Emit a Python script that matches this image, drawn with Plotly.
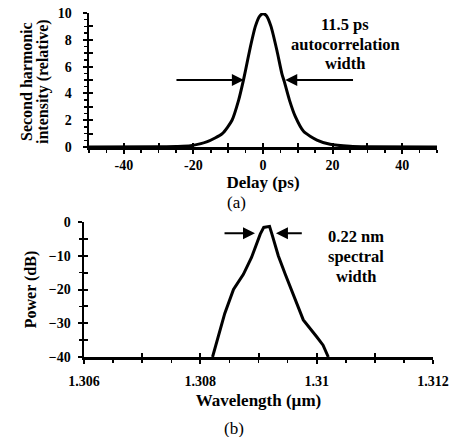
import plotly.graph_objects as go

# ---- Data ----
delay_ps = [-50, -30, -25, -20.8, -16, -11.7, -8.9, -7.0, -5.7, -5.0, -3.6, -2.2, -1.0, 0, 1.0, 2.3, 4.0, 5.4, 6.1, 7.6, 9.3, 11.7, 15.5, 19.3, 25, 30, 50]
sh_intensity = [0, 0.01, 0.04, 0.1, 0.4, 1.0, 2.0, 3.5, 4.9, 5.75, 7.5, 9.0, 9.75, 9.95, 9.8, 9.0, 7.2, 5.5, 4.9, 3.5, 2.26, 1.15, 0.52, 0.2, 0.05, 0.01, 0]

wavelength_um = [1.30821, 1.30831, 1.30842, 1.30857, 1.30874, 1.30888, 1.30897, 1.30903, 1.30909, 1.30919, 1.30924, 1.30934, 1.30946, 1.30960, 1.30977, 1.31000, 1.31011, 1.31020]
power_db = [-40, -34, -27.1, -20, -15.5, -10.5, -6.2, -3.6, -1.6, -1.3, -4.1, -10, -15.5, -21.5, -29, -34, -36.5, -40]

arrow_a_y = 5
arrow_a_left = (-25.3, -5.5)   # (tail, head)
arrow_a_right = (26.3, 6.4)
arrow_b_y = -3.3
arrow_b_left = (1.30839, 1.30894)
arrow_b_right = (1.30977, 1.30930)

x_ticks_a = [-40, -20, 0, 20, 40]
y_ticks_a = [0, 2, 4, 6, 8, 10]
x_ticks_b = [1.306, 1.308, 1.31, 1.312]
x_ticklabels_b = ["1.306", "1.308", "1.31", "1.312"]
y_ticks_b = [0, -10, -20, -30, -40]

note_a = ["11.5 ps", "autocorrelation", "width"]
note_b = ["0.22 nm", "spectral", "width"]
ytitle_a = ["Second harmonic", "intensity (relative)"]

FONT = "Liberation Serif"
W, H = 455, 437

def fx(px):
    return px / W

def fy(py):
    return 1 - py / H

fig = go.Figure()
fig.add_trace(go.Scatter(x=delay_ps, y=sh_intensity, mode="lines", line=dict(color="black", width=3, shape="spline", smoothing=0.6),
                         xaxis="x", yaxis="y", cliponaxis=False, showlegend=False, hoverinfo="skip"))
fig.add_trace(go.Scatter(x=wavelength_um, y=power_db, mode="lines", line=dict(color="black", width=3),
                         xaxis="x2", yaxis="y2", cliponaxis=False, showlegend=False, hoverinfo="skip"))

tickfont = dict(family=FONT, size=14, color="black", weight="bold")
titlefont = dict(family=FONT, size=17, color="black", weight="bold")
notefont = dict(family=FONT, size=16.5, color="black", weight="bold")
vtitlefont = dict(family=FONT, size=16, color="black", weight="bold")

dom_a_x = [fx(89), fx(437)]
dom_a_y = [fy(147), fy(13)]
dom_b_x = [fx(84), fx(433)]
dom_b_y = [fy(357), fy(222)]

common = dict(showgrid=False, zeroline=False, showline=True, linecolor="black", linewidth=2.5, automargin=False,
              ticks="outside", ticklen=4, tickwidth=2, tickcolor="black", tickfont=tickfont)

fig.update_layout(
    width=W, height=H, margin=dict(l=0, r=0, t=0, b=0, autoexpand=False),
    paper_bgcolor="white", plot_bgcolor="white",
    xaxis=dict(domain=dom_a_x, anchor="y", range=[-50, 50], tickvals=x_ticks_a, ticktext=[str(v) for v in x_ticks_a],
               minor=dict(dtick=5, ticks="outside", ticklen=3, tickwidth=1.5, tickcolor="black"),
               title=dict(text="Delay (ps)", font=titlefont, standoff=1), **common),
    yaxis=dict(domain=dom_a_y, anchor="x", range=[0, 10], tickvals=y_ticks_a, ticklabelstandoff=8,
               minor=dict(dtick=0.5, ticks="outside", ticklen=3, tickwidth=1.5, tickcolor="black"), **common),
    xaxis2=dict(domain=dom_b_x, anchor="y2", range=[1.306, 1.312], tickvals=x_ticks_b, ticktext=x_ticklabels_b,
                ticklabelstandoff=6,
                minor=dict(dtick=0.0005, ticks="outside", ticklen=3, tickwidth=1.5, tickcolor="black"),
                title=dict(text="Wavelength (µm)", font=titlefont, standoff=6), **common),
    yaxis2=dict(domain=dom_b_y, anchor="x2", range=[-40, 0], tickvals=y_ticks_b, ticklabelstandoff=4,
                minor=dict(dtick=5, ticks="outside", ticklen=3, tickwidth=1.5, tickcolor="black"),
                title=dict(text="Power (dB)", font=vtitlefont, standoff=8), **common),
    hovermode=False,
)

# inside-tick overlays to make ticks cross the axis line
ov = dict(showgrid=False, zeroline=False, showline=False, ticks="inside", ticklen=4, tickwidth=2, tickcolor="black",
          showticklabels=False, automargin=False)
fig.update_layout(
    xaxis3=dict(overlaying="x", matches="x", anchor="y", dtick=10, **ov),
    yaxis3=dict(overlaying="y", matches="y", anchor="x", dtick=1, **ov),
    xaxis4=dict(overlaying="x2", matches="x2", anchor="y2", dtick=0.001, **ov),
    yaxis4=dict(overlaying="y2", matches="y2", anchor="x2", dtick=5, **ov),
)
fig.add_trace(go.Scatter(x=[None], y=[None], xaxis="x3", yaxis="y3", showlegend=False))
fig.add_trace(go.Scatter(x=[None], y=[None], xaxis="x4", yaxis="y4", showlegend=False))

def arrow(xref, yref, tail, head, y):
    fig.add_annotation(x=head, y=y, ax=tail, ay=y, xref=xref, yref=yref, axref=xref, ayref=yref,
                       text="", showarrow=True, arrowhead=2, arrowsize=1.2, arrowwidth=2, arrowcolor="black")

arrow("x", "y", arrow_a_left[0], arrow_a_left[1], arrow_a_y)
arrow("x", "y", arrow_a_right[0], arrow_a_right[1], arrow_a_y)
arrow("x2", "y2", arrow_b_left[0], arrow_b_left[1], arrow_b_y)
arrow("x2", "y2", arrow_b_right[0], arrow_b_right[1], arrow_b_y)

def label(px, py, text, font, angle=0):
    fig.add_annotation(x=fx(px), y=fy(py), xref="paper", yref="paper", showarrow=False, text=text, font=font,
                       xanchor="center", yanchor="middle", textangle=angle, borderpad=0)

for txt, py in zip(note_a, [24, 44, 64]):
    label(345, py, txt, notefont)
for txt, py in zip(note_b, [236, 256, 276]):
    label(356, py, txt, notefont)
for txt, px in zip(ytitle_a, [26, 43]):
    label(px, 82, txt, vtitlefont, angle=-90)
label(236, 203, "(a)", dict(family=FONT, size=17, color="black"))
label(234, 428, "(b)", dict(family=FONT, size=17, color="black"))

fig.write_html("out.html", config={"displayModeBar": False, "staticPlot": True},
               post_script="document.body.style.margin='0';document.body.style.overflow='hidden';")
